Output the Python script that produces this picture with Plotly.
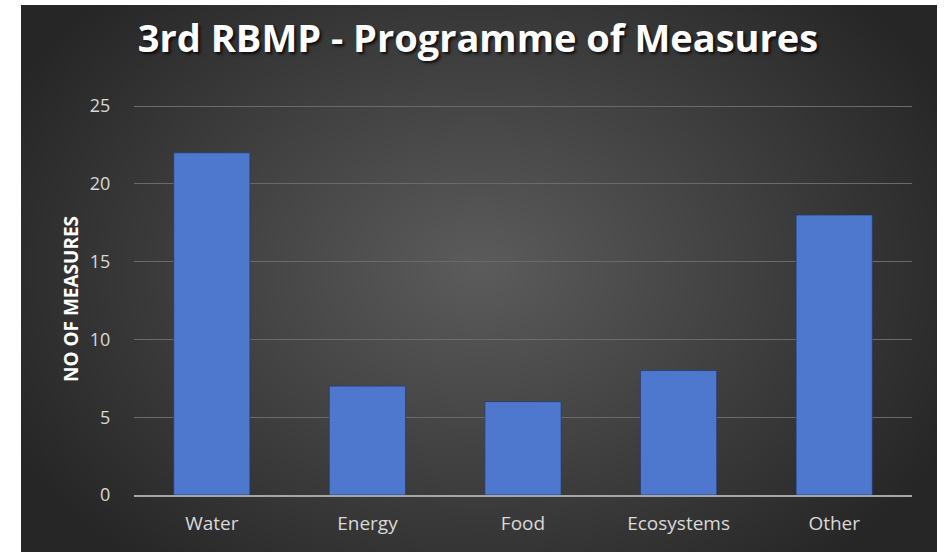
import base64
import struct
import zlib

import numpy as np
import plotly.graph_objects as go

# ---- data ----
categories = ["Water", "Energy", "Food", "Ecosystems", "Other"]
measures = [22, 7, 6, 8, 18]
y_ticks = [0, 5, 10, 15, 20, 25]

title_text = "3rd RBMP - Programme of Measures"
y_title = "NO OF MEASURES"

# ---- layout constants (pixels) ----
W, H = 945, 552
Y_TOP = 25.2
UNIT = 15.56
ML, MR, MB = 134, 33, 57
PH = round(Y_TOP * UNIT)
MT = H - MB - PH
PW = W - ML - MR

# dark panel extent (pixels)
BX0, BX1, BY0, BY1 = 21, 937, 5, 552


def radial_png(w, h):
    yy, xx = np.mgrid[0:h, 0:w].astype(float)
    cx, cy = w * 0.50, h * 0.48
    rx, ry = w * 0.58, h * 0.72
    r = np.sqrt(((xx - cx) / rx) ** 2 + ((yy - cy) / ry) ** 2)
    r = np.clip(r, 0, 1)
    c0, c1 = 92.0, 38.0
    v = (c0 + (c1 - c0) * r).astype(np.uint8)
    img = np.stack([v, v, v], axis=-1)
    raw = b"".join(b"\x00" + img[i].tobytes() for i in range(h))

    def chunk(t, d):
        c = struct.pack(">I", len(d)) + t + d
        return c + struct.pack(">I", zlib.crc32(t + d) & 0xFFFFFFFF)

    png = b"\x89PNG\r\n\x1a\n"
    png += chunk(b"IHDR", struct.pack(">IIBBBBB", w, h, 8, 2, 0, 0, 0))
    png += chunk(b"IDAT", zlib.compress(raw, 9))
    png += chunk(b"IEND", b"")
    return "data:image/png;base64," + base64.b64encode(png).decode()


bg_src = radial_png(BX1 - BX0, BY1 - BY0)

fig = go.Figure(
    go.Bar(
        x=categories,
        y=measures,
        marker=dict(color="#4e78ce", line=dict(color="rgba(35,55,110,0.7)", width=1)),
        hoverinfo="x+y",
    )
)

fig.add_layout_image(
    dict(
        source=bg_src,
        xref="paper",
        yref="paper",
        x=(BX0 - ML) / PW,
        y=(H - MB - BY0) / PH,
        sizex=(BX1 - BX0) / PW,
        sizey=(BY1 - BY0) / PH,
        xanchor="left",
        yanchor="top",
        sizing="stretch",
        layer="below",
    )
)

fig.update_layout(
    width=W,
    height=H,
    margin=dict(l=ML, r=MR, t=MT, b=MB),
    paper_bgcolor="white",
    plot_bgcolor="rgba(0,0,0,0)",
    bargap=0.51,
    showlegend=False,
    title=dict(
        text=title_text,
        xref="container",
        x=478 / W,
        xanchor="center",
        yref="container",
        y=1 - 39 / H,
        yanchor="middle",
        font=dict(family="Open Sans", size=38, color="white", weight="bold",
                  shadow="2px 2px 3px rgba(0,0,0,0.8)"),
    ),
    font=dict(family="Open Sans", color="#d9d9d9"),
    xaxis=dict(
        showgrid=False,
        showline=True,
        linecolor="#a6a6a6",
        linewidth=2,
        tickfont=dict(size=19, color="#d9d9d9"),
        ticks="outside",
        ticklen=10,
        tickcolor="rgba(0,0,0,0)",
        zeroline=False,
    ),
    yaxis=dict(
        range=[0, Y_TOP],
        tickvals=y_ticks,
        showgrid=True,
        gridcolor="#6a6a6a",
        gridwidth=1,
        zeroline=False,
        showline=False,
        tickfont=dict(size=18, color="#d9d9d9"),
        ticks="outside",
        ticklen=19,
        tickcolor="rgba(0,0,0,0)",
        title=dict(
            text=y_title,
            font=dict(size=19, color="white", weight="bold"),
            standoff=6,
        ),
    ),
)

fig.write_html(
    "out.html",
    config={"displayModeBar": False},
    post_script="document.body.style.margin='0px';",
)
